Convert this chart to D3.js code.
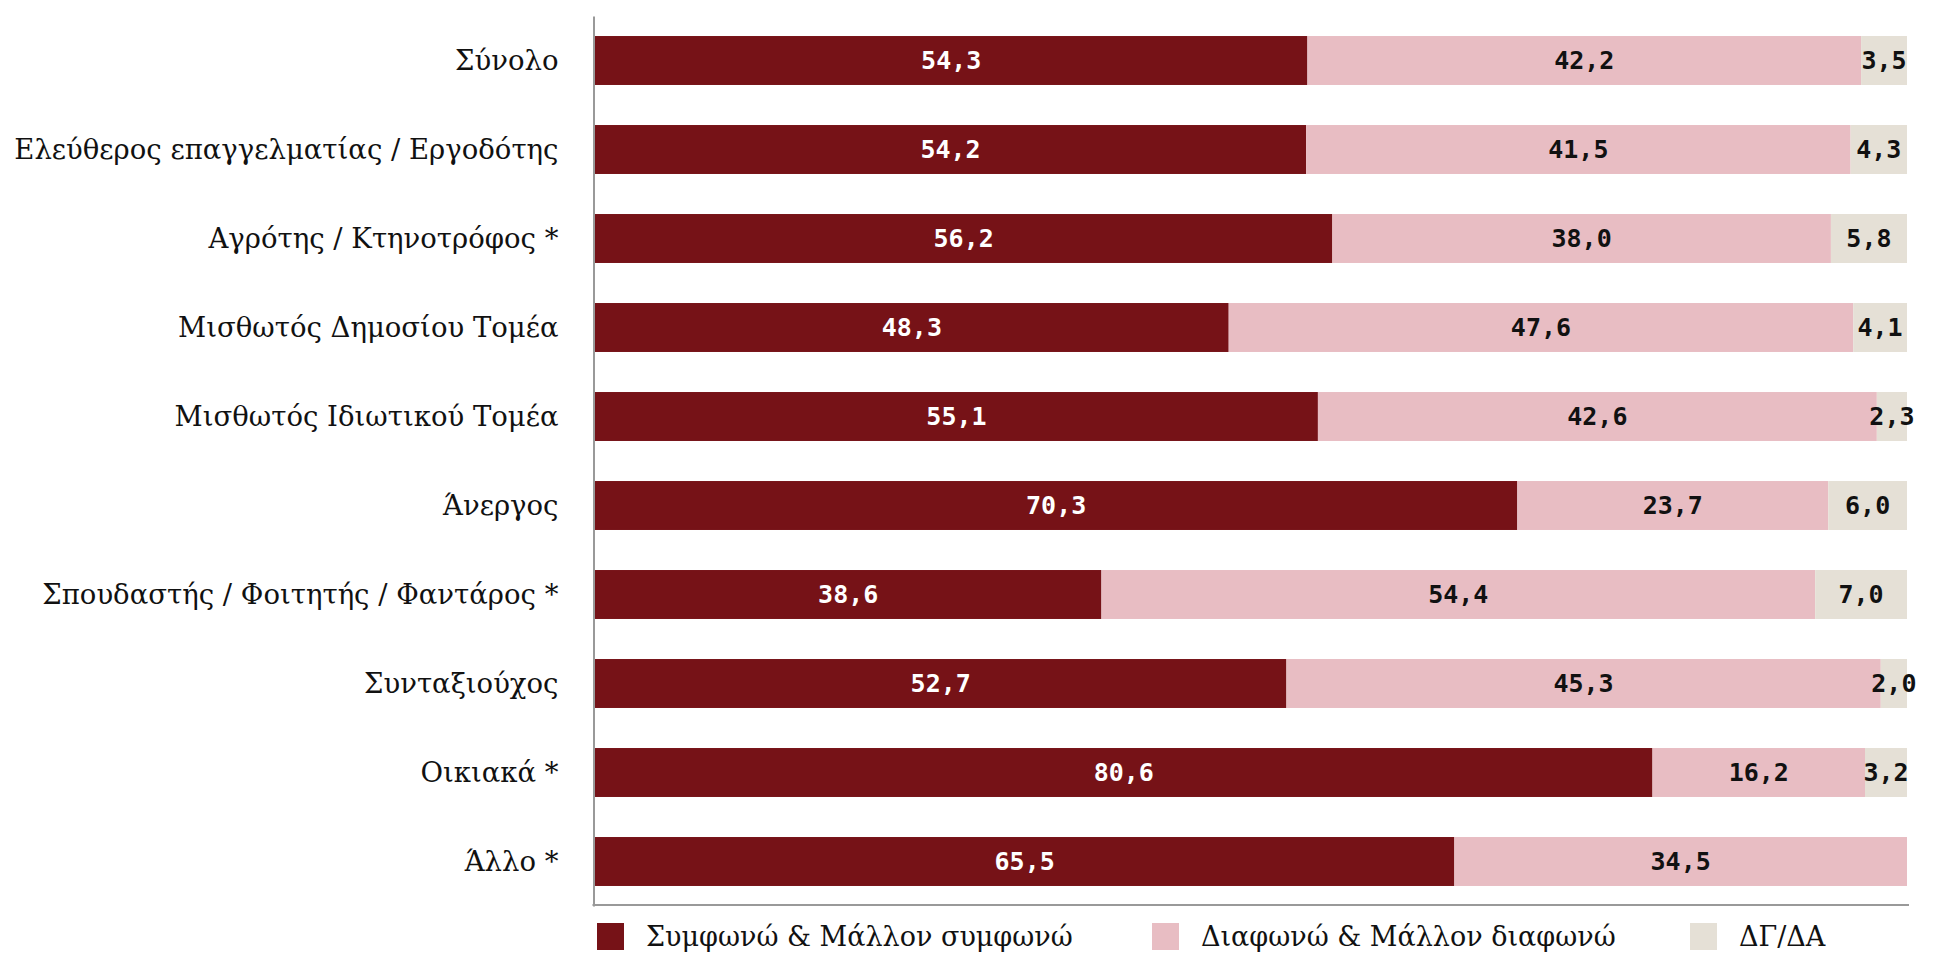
<!DOCTYPE html>
<html>
<head>
<meta charset="utf-8">
<script src="https://cdn.jsdelivr.net/npm/d3@7"></script>
<style>
  body { margin: 0; background: #fff; }
  .cat text { font-family: "DejaVu Serif", serif; font-size: 27.5px; fill: #111; }
  .val { font-family: "DejaVu Sans Mono", monospace; font-size: 25px; font-weight: bold; }
  .leg { font-family: "DejaVu Serif", serif; font-size: 27px; fill: #111; }
</style>
</head>
<body>
<div id="chart"></div>
<script>
const categories = [
    "Σύνολο",
    "Ελεύθερος επαγγελματίας / Εργοδότης",
    "Αγρότης / Κτηνοτρόφος *",
    "Μισθωτός Δημοσίου Τομέα",
    "Μισθωτός Ιδιωτικού Τομέα",
    "Άνεργος",
    "Σπουδαστής / Φοιτητής / Φαντάρος *",
    "Συνταξιούχος",
    "Οικιακά *",
    "Άλλο *"
]
const agree = [54.3, 54.2, 56.2, 48.3, 55.1, 70.3, 38.6, 52.7, 80.6, 65.5]
const disagree = [42.2, 41.5, 38.0, 47.6, 42.6, 23.7, 54.4, 45.3, 16.2, 34.5]
const dkna = [3.5, 4.3, 5.8, 4.1, 2.3, 6.0, 7.0, 2.0, 3.2, 0]
const seriesNames = ["Συμφωνώ & Μάλλον συμφωνώ", "Διαφωνώ & Μάλλον διαφωνώ", "ΔΓ/ΔΑ"]
const colors = ["#761217", "#e8bdc3", "#e5e0d6"]
const labelColors = ["#fff", "#111", "#111"]

const width = 1939, height = 953
const margin = { top: 16, right: 32, bottom: 47, left: 595 }

const svg = d3.select("#chart")
    .append("svg")
    .attr("width", width)
    .attr("height", height)

const rows = categories.map((c, i) => ({ cat: c, v: [agree[i], disagree[i], dkna[i]] }))

/* scales */
const x = d3.scaleLinear()
    .domain([0, 100])
    .range([margin.left, width - margin.right])

const y = d3.scaleBand()
    .domain(categories)
    .range([margin.top, height - margin.bottom])
    .paddingInner(0.45)
    .paddingOuter(0.225)

/* stacked segments */
const stack = d3.stack().keys([0, 1, 2]).value((d, k) => d.v[k])
const layers = stack(rows)

const g = svg.selectAll("g.layer")
    .data(layers)
    .enter()
    .append("g")
    .attr("class", "layer")
    .attr("fill", (d, i) => colors[i])

g.selectAll("rect")
    .data(d => d)
    .enter()
    .append("rect")
    .attr("x", d => x(d[0]))
    .attr("y", d => y(d.data.cat))
    .attr("width", d => x(d[1]) - x(d[0]))
    .attr("height", y.bandwidth())

/* value labels */
layers.forEach((layer, i) => {
    svg.append("g")
        .selectAll("text")
        .data(layer.filter(d => d[1] - d[0] > 0))
        .enter()
        .append("text")
        .attr("class", "val")
        .attr("x", d => (x(d[0]) + x(d[1])) / 2)
        .attr("y", d => y(d.data.cat) + y.bandwidth() / 2)
        .attr("text-anchor", "middle")
        .attr("dominant-baseline", "central")
        .attr("fill", labelColors[i])
        .text(d => d3.format(".1f")(d[1] - d[0]).replace(".", ","))
})

/* axes */
const yAxis = svg.append("g")
    .attr("class", "cat")
    .attr("transform", `translate(${margin.left - 1.5}, 0)`)
    .call(d3.axisLeft(y).tickSize(0).tickPadding(35))
yAxis.select(".domain").attr("stroke", "#999").attr("stroke-width", 2)
yAxis.selectAll("text").attr("dy", "0.35em")

const xAxis = svg.append("g")
    .attr("transform", `translate(0, ${height - margin.bottom - 1})`)
    .call(d3.axisBottom(x).tickSize(0).tickFormat(""))
xAxis.select(".domain")
    .attr("d", `M${margin.left - 2.5},0H${width - margin.right + 2}`)
    .attr("stroke", "#999").attr("stroke-width", 2)

/* legend */
const legendX = [597, 1152, 1690]
const legend = svg.append("g")
    .selectAll("g")
    .data(seriesNames)
    .enter()
    .append("g")
    .attr("transform", (d, i) => `translate(${legendX[i]}, 923)`)

legend.append("rect")
    .attr("width", 27)
    .attr("height", 27)
    .attr("fill", (d, i) => colors[i])

legend.append("text")
    .attr("class", "leg")
    .attr("x", 49)
    .attr("y", 14)
    .attr("dy", "0.35em")
    .text(d => d)
</script>
</body>
</html>
